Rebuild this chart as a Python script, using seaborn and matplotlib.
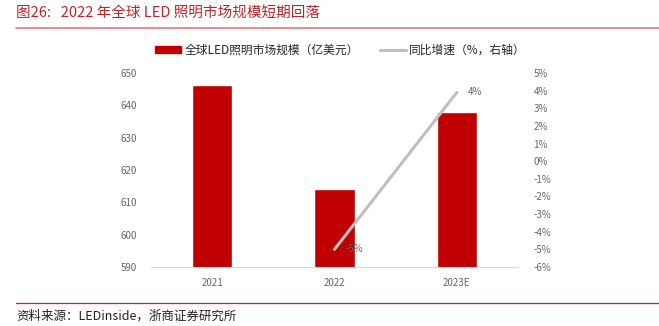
import matplotlib
matplotlib.use("Agg")
import matplotlib.pyplot as plt
import seaborn as sns
import pandas as pd
from matplotlib.lines import Line2D
from matplotlib.patches import Patch

# Data
years = ["2021", "2022", "2023E"]
market_size = [646.3, 614.2, 637.9]          # 亿美元
growth_years = ["2022", "2023E"]
growth_pct = [-5.0, 3.9]                      # %
growth_labels = ["-5%", "4%"]

sns.set_theme(style="white")
plt.rcParams["font.family"] = ["Noto Sans CJK SC", "DejaVu Sans"]

BAR_RED = "#C00000"
LINE_GRAY = "#BFBFBF"
TICK_GRAY = "#666666"
TITLE_RED = "#B8262C"

fig = plt.figure(figsize=(6.59, 3.26), dpi=100)
ax = fig.add_axes([151 / 659, 1 - 267 / 326, 367 / 659, 194 / 326])

df = pd.DataFrame({"year": years, "size": market_size})
sns.barplot(data=df, x="year", y="size", color=BAR_RED, width=0.33,
            saturation=1, ax=ax, order=years)
ax.set_ylim(590, 650)
ax.set_yticks(range(590, 651, 10))
ax.set_xlim(-0.5, 2.5)
ax.set_xlabel("")
ax.set_ylabel("")
for s in ["top", "right", "left"]:
    ax.spines[s].set_visible(False)
ax.spines["bottom"].set_color("#D9D9D9")
ax.spines["bottom"].set_linewidth(0.8)
ax.tick_params(axis="y", length=0, pad=10, labelsize=7, labelcolor=TICK_GRAY)
ax.tick_params(axis="x", length=0, pad=8, labelsize=7, labelcolor=TICK_GRAY)

ax2 = ax.twinx()
gdf = pd.DataFrame({"x": [years.index(y) for y in growth_years], "g": growth_pct})
sns.lineplot(data=gdf, x="x", y="g", color=LINE_GRAY, linewidth=2.2, ax=ax2)
ax2.set_ylim(-6, 5)
ax2.set_yticks(range(-6, 6))
ax2.set_yticklabels([f"{v}%" for v in range(-6, 6)])
ax2.set_xlim(-0.5, 2.5)
ax2.set_ylabel("")
ax2.set_xlabel("")
for s in ["top", "right", "left", "bottom"]:
    ax2.spines[s].set_visible(False)
ax2.tick_params(axis="y", length=0, pad=11, labelsize=7, labelcolor=TICK_GRAY)

for xv, yv, lab in zip(gdf["x"], gdf["g"], growth_labels):
    ax2.annotate(lab, (xv, yv), xytext=(8, 0),
                 textcoords="offset points", ha="left", va="center",
                 fontsize=7, color=TICK_GRAY)

# Legend
handles = [Patch(facecolor=BAR_RED, edgecolor=BAR_RED),
           Line2D([0], [0], color=LINE_GRAY, linewidth=2.2)]
labels = ["全球LED照明市场规模（亿美元）", "同比增速（%，右轴）"]
fig.legend(handles, labels, loc="center left",
           bbox_to_anchor=(150 / 659, 1 - 50 / 326), borderaxespad=0,
           ncol=2, frameon=False, handlelength=2.2,
           handleheight=0.55, columnspacing=1.8, handletextpad=0.3,
           prop={"weight": "medium", "size": 8.5})

# Title and source
fig.text(16 / 659, 1 - 13 / 326, "图26:   2022 年全球 LED 照明市场规模短期回落",
         fontsize=10.5, color=TITLE_RED, ha="left", va="center")
fig.add_artist(Line2D([16 / 659, 1], [1 - 28 / 326, 1 - 28 / 326],
                      color="#E07A7E", linewidth=1.2))
fig.add_artist(Line2D([16 / 659, 1], [1 - 303 / 326, 1 - 303 / 326],
                      color="#D02020", linewidth=0.9))
fig.text(16 / 659, 1 - 316 / 326, "资料来源：LEDinside，浙商证券研究所",
         fontsize=9, color="#222222", ha="left", va="center")

fig.savefig("out.png", dpi=100)
